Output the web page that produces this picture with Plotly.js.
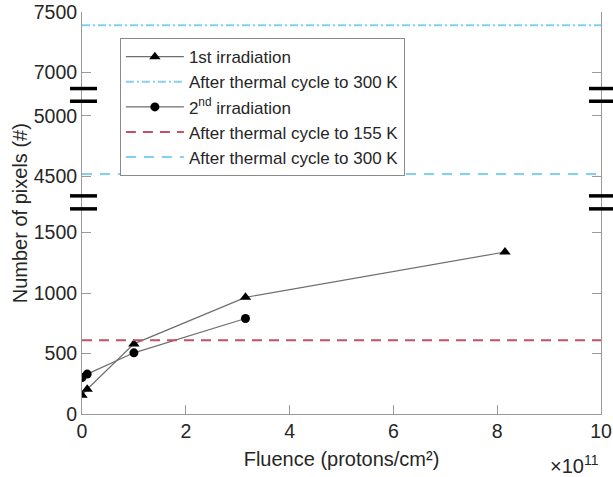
<!DOCTYPE html>
<html>
<head>
<meta charset="utf-8">
<script src="https://cdn.plot.ly/plotly-3.0.1.min.js"></script>
<style>html,body{margin:0;padding:0;background:#fff;}#chart{width:613px;height:477px;}</style>
</head>
<body>
<div id="chart"></div>
<script>
// ---- data ----
const fluence1 = [0, 0.1e11, 1.0e11, 3.15e11, 8.15e11];
const pixels1  = [155, 205, 580, 965, 1340];
const fluence2 = [0, 0.1e11, 1.0e11, 3.15e11];
const pixels2  = [302, 330, 506, 790];
const lineX    = [0, 1e12];
const cycle300a = 7390;   // after 1st irradiation, thermal cycle to 300 K
const cycle155  = 610;    // after 2nd irradiation, thermal cycle to 155 K
const cycle300b = 4520;   // after 2nd irradiation, thermal cycle to 300 K
const xTickVals = [0, 2e11, 4e11, 6e11, 8e11, 1e12];
const xTickText = ['0', '2', '4', '6', '8', '10'];
const names = ['1st irradiation', 'After thermal cycle to 300 K', '2<sup>nd</sup> irradiation',
               'After thermal cycle to 155 K', 'After thermal cycle to 300 K'];

const blue = '#80d0f2', red = '#c25068', dataLine = '#6e6e6e';
const traces = [
  {x: fluence1, y: pixels1, name: names[0], mode: 'lines+markers', xaxis: 'x', yaxis: 'y',
   line: {color: dataLine, width: 1.2}, marker: {symbol: 'triangle-up', size: 10, color: '#000'}},
  {x: lineX, y: [cycle300a, cycle300a], name: names[1], mode: 'lines', xaxis: 'x', yaxis: 'y3',
   line: {color: blue, width: 2, dash: '8px,3px,2px,3px'}},
  {x: fluence2, y: pixels2, name: names[2], mode: 'lines+markers', xaxis: 'x', yaxis: 'y',
   line: {color: dataLine, width: 1.2}, marker: {symbol: 'circle', size: 9, color: '#000'}},
  {x: lineX, y: [cycle155, cycle155], name: names[3], mode: 'lines', xaxis: 'x', yaxis: 'y',
   line: {color: red, width: 2, dash: '10px,7px'}},
  {x: lineX, y: [cycle300b, cycle300b], name: names[4], mode: 'lines', xaxis: 'x', yaxis: 'y2',
   line: {color: blue, width: 2, dash: '10px,8px'}}
];

const axColor = '#9a9a9a', txt = '#262626';
const fam = 'Arial, "Liberation Sans", sans-serif';
const font = {family: fam, size: 19.5, color: txt};
const yCommon = {showline: true, linecolor: axColor, linewidth: 1, mirror: 'ticks',
  ticks: 'inside', ticklen: 9, tickcolor: axColor, showgrid: false, zeroline: false,
  dtick: 500, tickfont: font, anchor: 'x', fixedrange: true};
const d1 = 0.5269, d2 = 0.7943;

const brk = (x0, x1, y) => ({type: 'line', xref: 'paper', yref: 'paper', x0: x0, x1: x1, y0: y, y1: y,
  line: {color: '#000', width: 3.5}});

const layout = {
  width: 613, height: 477,
  margin: {l: 82, r: 12, t: 12, b: 63},
  paper_bgcolor: '#fff', plot_bgcolor: '#fff',
  font: font,
  showlegend: true,
  legend: {x: 0.073, y: 0.935, xanchor: 'left', yanchor: 'top', bgcolor: '#fff',
    bordercolor: '#8a8a8a', borderwidth: 1, font: {family: fam, size: 17, color: txt},
    itemwidth: 58, traceorder: 'normal'},
  xaxis: {range: [0, 1e12], tickvals: xTickVals, ticktext: xTickText, anchor: 'y',
    showline: true, linecolor: axColor, ticks: 'inside', ticklen: 9, tickcolor: axColor,
    showgrid: false, zeroline: false, tickfont: font, fixedrange: true,
    title: {text: 'Fluence (protons/cm²)', font: {family: fam, size: 20, color: txt}, standoff: 10}},
  xaxis2: {matches: 'x', overlaying: 'x', anchor: 'y3', side: 'top', range: [0, 1e12],
    tickvals: xTickVals, showticklabels: false, showline: true, linecolor: axColor,
    ticks: 'inside', ticklen: 9, tickcolor: axColor, showgrid: false, zeroline: false},
  yaxis: Object.assign({}, yCommon, {domain: [0, d1], range: [0, 1752]}),
  yaxis2: Object.assign({}, yCommon, {domain: [d1, d2], range: [4287, 5176]}),
  yaxis3: Object.assign({}, yCommon, {domain: [d2, 1], range: [6816, 7500]}),
  shapes: [
    brk(-0.0231, 0.0289, 0.8096), brk(-0.0231, 0.0289, 0.7780),
    brk(-0.0231, 0.0289, 0.5426), brk(-0.0231, 0.0289, 0.5103),
    brk(0.9769, 1.03, 0.8096), brk(0.9769, 1.03, 0.7780),
    brk(0.9769, 1.03, 0.5426), brk(0.9769, 1.03, 0.5103)
  ],
  annotations: [
    {text: 'Number of pixels (#)', xref: 'paper', yref: 'paper', x: -0.119, y: 0.5,
     textangle: -90, showarrow: false, xanchor: 'center', yanchor: 'middle',
     font: {family: fam, size: 20, color: txt}},
    {text: '×10<sup>11</sup>', xref: 'paper', yref: 'paper', x: 1.0, y: -0.09,
     showarrow: false, xanchor: 'right', yanchor: 'top', font: {family: fam, size: 20, color: txt}}
  ]
};
Plotly.newPlot('chart', traces, layout, {displayModeBar: false, staticPlot: true});
</script>
</body>
</html>
